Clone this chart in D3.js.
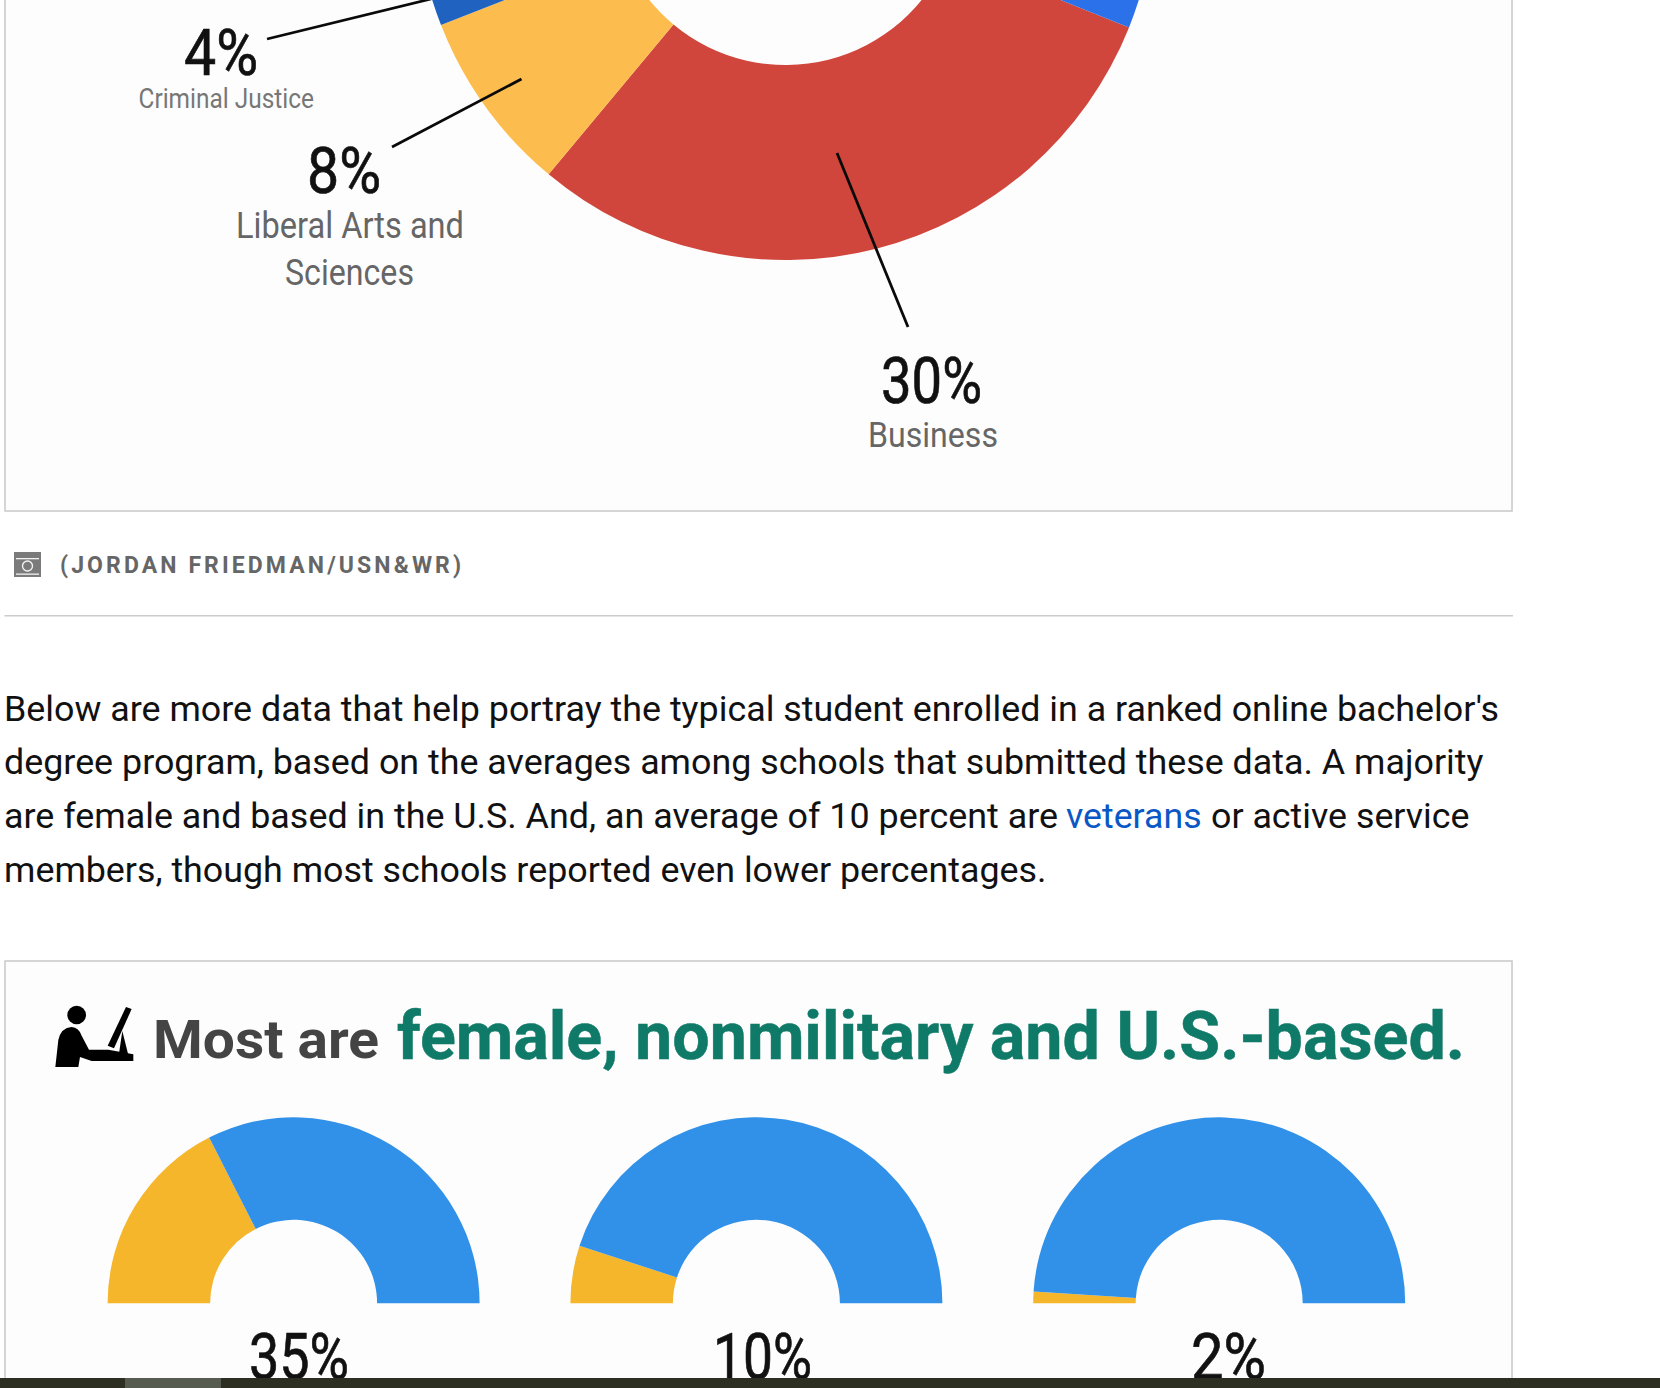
<!DOCTYPE html>
<html>
<head>
<meta charset="utf-8">
<script src="https://cdnjs.cloudflare.com/ajax/libs/d3/7.8.5/d3.min.js"></script>
<style>
    html, body { margin: 0; padding: 0; background: #fff; overflow: hidden; }
    svg { display: block; }
    text { font-family: Roboto, sans-serif; }
</style>
</head>
<body>
<svg id="chart" width="1660" height="1388"></svg>
<script>
// values, the last field share is whatever is cropped away at the top
const fieldNames = ["Business", "Liberal Arts and Sciences", "Criminal Justice", "Other fields"];
const fieldShares = [30, 8, 4, 58];
const gaugeShares = [35, 10, 2];
const creditText = "(JORDAN FRIEDMAN/USN&WR)";
const titleDark = "Most are";
const titleGreen = "female, nonmilitary and U.S.-based.";
const bodyLine1 = "Below are more data that help portray the typical student enrolled in a ranked online bachelor's";
const bodyLine2 = "degree program, based on the averages among schools that submitted these data. A majority";
const bodyLine3a = "are female and based in the U.S. And, an average of 10 percent are";
const bodyLink = "veterans";
const bodyLine3b = "or active service";
const bodyLine4 = "members, though most schools reported even lower percentages.";

const svg = d3.select("#chart");
const toRad = deg => deg * Math.PI / 180;

// stretches text to the measured width, the source image is a squeezed screenshot
function addText(x0, x1, baseline, str, size, fill, weight) {
    return svg.append("text")
        .attr("x", x0)
        .attr("y", baseline)
        .attr("font-size", size)
        .attr("font-weight", weight || 400)
        .attr("fill", fill)
        .attr("textLength", x1 - x0)
        .attr("lengthAdjust", "spacingAndGlyphs")
        .text(str);
}

// the big percent labels look heavier than regular but lighter than medium
function addPct(x0, x1, baseline, v) {
    return addText(x0, x1, baseline, v + "%", 65, "#111")
        .attr("stroke", "#111").attr("stroke-width", 0.7);
}

// panels
svg.append("rect").attr("x", 5).attr("y", -10).attr("width", 1507).attr("height", 521)
    .attr("fill", "#fdfdfd").attr("stroke", "#c8c8c8").attr("stroke-width", 1.5);
svg.append("rect").attr("x", 5).attr("y", 961).attr("width", 1507).attr("height", 440)
    .attr("fill", "#fdfdfd").attr("stroke", "#c8c8c8").attr("stroke-width", 1.5);

// big donut
const fieldColor = d3.scaleOrdinal().domain(fieldNames)
    .range(["#d1463c", "#fdbd4e", "#1f62bf", "#2b72ea"]);
const fieldPie = d3.pie().sort(null).startAngle(toRad(111.8)).endAngle(toRad(471.8));
const fieldArc = d3.arc().innerRadius(175).outerRadius(370);

svg.append("g").attr("transform", "translate(785.5,-110)")
    .selectAll("path")
    .data(fieldPie(fieldShares))
    .join("path")
    .attr("d", fieldArc)
    .attr("fill", (d, i) => fieldColor(fieldNames[i]));

// leader lines
const leaders = [
    [837, 153, 908, 327],
    [521.5, 79, 392, 147],
    [431, -1, 267, 39]
];
svg.append("g").selectAll("line")
    .data(leaders)
    .join("line")
    .attr("x1", d => d[0]).attr("y1", d => d[1])
    .attr("x2", d => d[2]).attr("y2", d => d[3])
    .attr("stroke", "#0a0a0a").attr("stroke-width", 2.8);

// donut labels
addPct(881, 982, 403, fieldShares[0]);
addText(868, 998, 446.7, fieldNames[0], 35, "#666");
addPct(307, 381, 193, fieldShares[1]);
addText(236, 464, 238, "Liberal Arts and", 36, "#666");
addText(285, 414, 284.5, "Sciences", 36, "#666");
addPct(184, 258, 75, fieldShares[2]);
addText(138.5, 314, 107.5, fieldNames[2], 27, "#777");

// photo credit with camera icon
const camera = svg.append("g");
camera.append("rect").attr("x", 14).attr("y", 552).attr("width", 27).attr("height", 25).attr("fill", "#7b7b7b");
camera.append("rect").attr("x", 16).attr("y", 558).attr("width", 23).attr("height", 1.3).attr("fill", "#f2f2f2");
camera.append("rect").attr("x", 16).attr("y", 573.5).attr("width", 23).attr("height", 1.3).attr("fill", "#f2f2f2");
camera.append("circle").attr("cx", 27.5).attr("cy", 566).attr("r", 5).attr("fill", "none").attr("stroke", "#f2f2f2").attr("stroke-width", 1.4);
addText(60, 461, 573.3, creditText, 23, "#666", 700).attr("lengthAdjust", "spacing");

svg.append("line").attr("x1", 4.5).attr("x2", 1513).attr("y1", 615.7).attr("y2", 615.7)
    .attr("stroke", "#cccccc").attr("stroke-width", 1.6);

// article text
addText(4, 1499, 720.7, bodyLine1, 35.5, "#111");
addText(4, 1483.5, 773.7, bodyLine2, 35.5, "#111");
addText(4, 1058, 827.7, bodyLine3a, 35.5, "#111");
addText(1066, 1201.6, 827.7, bodyLink, 35.5, "#0b57c5");
addText(1211, 1469.5, 827.7, bodyLine3b, 35.5, "#111");
addText(4, 1046.5, 881.7, bodyLine4, 35.5, "#111");

// title row, the icon is a person at a desk
const icon = svg.append("g").attr("transform", "translate(45,995) scale(0.3333)").attr("fill", "#000");
icon.append("circle").attr("cx", 95).attr("cy", 60).attr("r", 28);
icon.append("path").attr("d", "M31,216 L40,135 Q48,98 80,96 Q102,98 110,122 L132,164 L190,164 L265,178 L265,198 L140,198 L105,186 L100,216 Z");
icon.append("path").attr("d", "M243,36 L260,42 L207,160 L188,152 Z");
icon.append("path").attr("d", "M232,108 L250,180 L222,176 Z");

addText(153, 379, 1058.3, titleDark, 54, "#444", 700);
addText(397, 1465, 1058.8, titleGreen, 66, "#0f7a68", 700)
    .attr("stroke", "#0f7a68").attr("stroke-width", 0.5);

// half gauges
const gaugeCenters = [293.6, 756.4, 1219.2];
const gaugeColor = d3.scaleOrdinal().domain(["share", "rest"]).range(["#f5b62b", "#3191e8"]);
const gaugePie = d3.pie().sort(null).startAngle(toRad(-90)).endAngle(toRad(90));
const gaugeArc = d3.arc().innerRadius(83.5).outerRadius(186);

const gauges = svg.append("g").selectAll("g")
    .data(gaugeShares)
    .join("g")
    .attr("transform", (d, i) => `translate(${gaugeCenters[i]},1303.3)`);

gauges.selectAll("path")
    .data(d => gaugePie([d, 100 - d]))
    .join("path")
    .attr("d", gaugeArc)
    .attr("fill", (d, i) => gaugeColor(i === 0 ? "share" : "rest"));

const gaugeLabelEdges = [[249, 349], [713, 812], [1191, 1266]];
gaugeShares.forEach((v, i) => {
    addPct(gaugeLabelEdges[i][0], gaugeLabelEdges[i][1], 1379, v);
});

// dark strip along the bottom of the window
const strip = svg.append("g");
strip.append("rect").attr("x", 0).attr("y", 1378).attr("width", 1660).attr("height", 10).attr("fill", "#2c2f21");
strip.append("rect").attr("x", 125).attr("y", 1378).attr("width", 96).attr("height", 10).attr("fill", "#575c50");
</script>
</body>
</html>
